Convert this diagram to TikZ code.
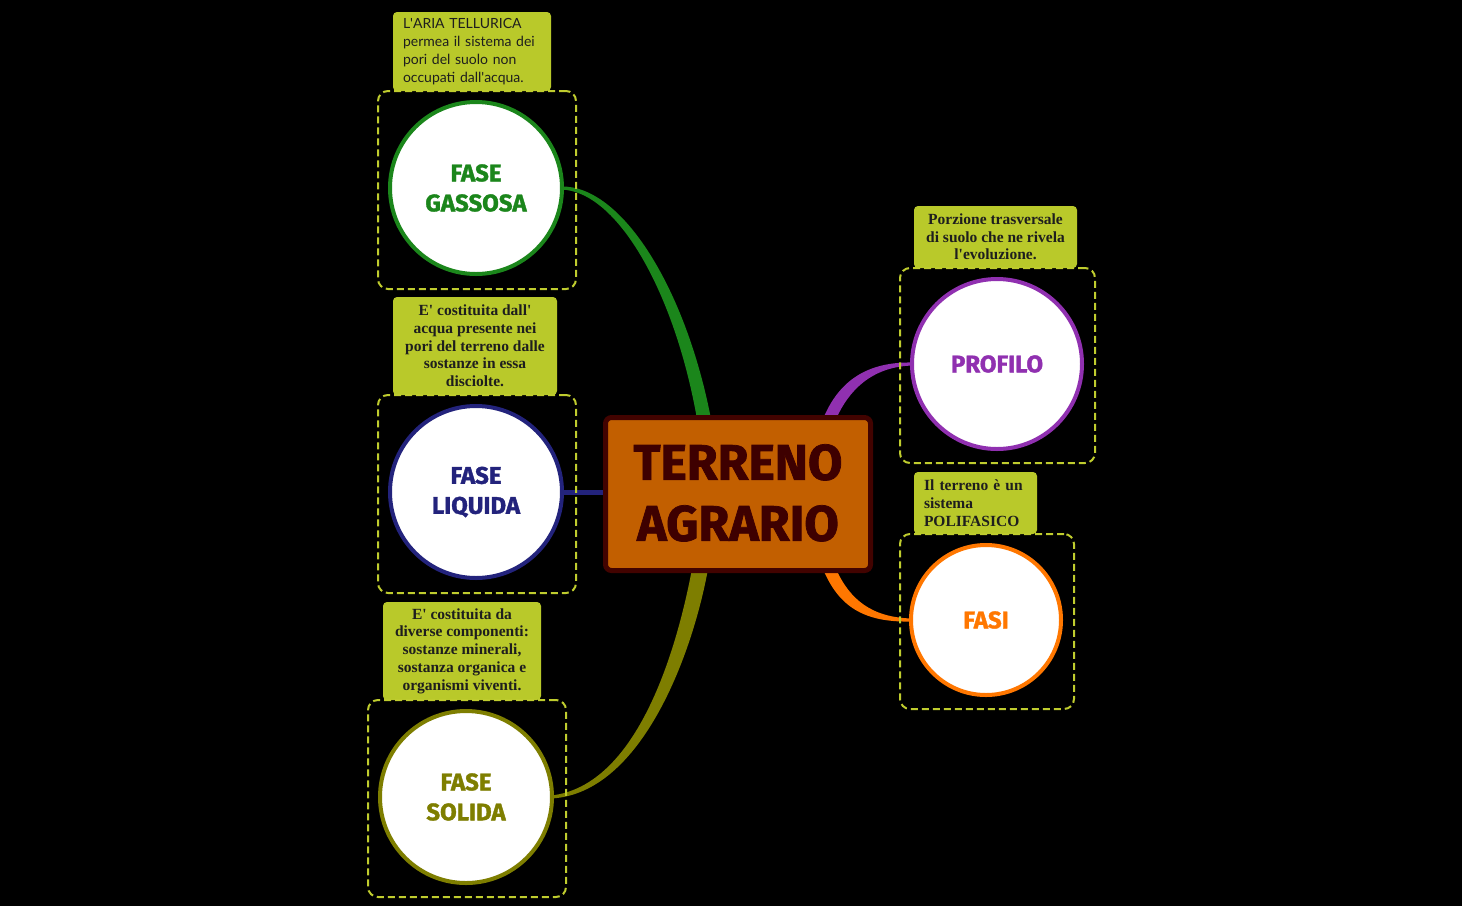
\documentclass[tikz,border=0pt]{standalone}
\usepackage{fontspec}
\setmainfont{Liberation Serif}
\newfontfamily\notesans{Lato}
\newfontfamily\heavy{Fira Sans}[BoldFeatures={FakeBold=1.5}]
\usetikzlibrary{calc}
\pgfdeclarelayer{bg}
\pgfsetlayers{bg,main}
\definecolor{bgnote}{HTML}{B9C92A}
\definecolor{dashc}{HTML}{BFCC2E}
\definecolor{cfill}{HTML}{C25F00}
\definecolor{cbord}{HTML}{420300}
\definecolor{ctext}{HTML}{3E0000}
\definecolor{cgas}{HTML}{1B861B}
\definecolor{cliq}{HTML}{23237C}
\definecolor{csol}{HTML}{7E7E00}
\definecolor{cpro}{HTML}{9030B0}
\definecolor{cfas}{HTML}{FF7700}
\definecolor{notetext}{HTML}{1E1E1E}
\newcommand{\apo}{\textquotesingle}
\begin{document}
\begin{tikzpicture}[x=1pt,y=-1pt,
  dashbox/.style={draw=dashc, line width=2, dash pattern=on 7pt off 4pt, rounded corners=10, inner sep=0},
  notebox/.style={fill=bgnote, rounded corners=4, inner sep=0, text=notetext},
  serifnote/.style={notebox, align=center, font=\bfseries\fontsize{15.5}{17.7}\selectfont},
  circ/.style={circle, fill=white, line width=4, minimum size=172, inner sep=0, align=center, font=\heavy\bfseries\fontsize{24}{30}\selectfont},
]
\begin{pgfonlayer}{bg}
\fill[black] (0,0) rectangle (1462,906);
\end{pgfonlayer}
\useasboundingbox (0,0) rectangle (1462,906);

% notes
\node[notebox, minimum width=158, minimum height=79, text width=138, align=left, font=\notesans\fontsize{14}{18}\selectfont] (ngas) at (472,51.5) {L\apo ARIA TELLURICA\\permea il sistema dei\\pori del suolo non\\occupati dall\apo acqua.};
\node[serifnote, minimum width=164, minimum height=98] (nliq) at (475,346) {E\apo{} costituita dall\apo\\acqua presente nei\\pori del terreno dalle\\sostanze in essa\\disciolte.};
\node[serifnote, minimum width=158, minimum height=98] (nsol) at (462,651) {E\apo{} costituita da\\diverse componenti:\\sostanze minerali,\\sostanza organica e\\organismi viventi.};
\node[serifnote, minimum width=163, minimum height=62] (npro) at (995.5,237) {Porzione trasversale\\di suolo che ne rivela\\l\apo evoluzione.};
\node[notebox, minimum width=123, minimum height=62, text width=103, align=left, font=\bfseries\fontsize{15.5}{17.7}\selectfont] (nfas) at (975.5,503) {Il terreno è un\\sistema\\POLIFASICO};

% dashed frames
\node[dashbox, minimum width=198, minimum height=198] (bgas) at (477,190) {};
\node[dashbox, minimum width=198, minimum height=198] (bliq) at (477,494) {};
\node[dashbox, minimum width=198, minimum height=197] (bsol) at (467,798.5) {};
\node[dashbox, minimum width=195, minimum height=195] (bpro) at (997.5,365.5) {};
\node[dashbox, minimum width=174, minimum height=175] (bfas) at (987,621.5) {};

% central topic
\node[draw=cbord, line width=5, fill=cfill, rounded corners=6, minimum width=265, minimum height=153, inner sep=0, align=center, text=ctext, font=\heavy\bfseries\fontsize{50}{61}\selectfont] (tc) at (738,494) {\raisebox{3pt}{TERRENO}\\\raisebox{3pt}{AGRARIO}};

% circles
\node[circ, draw=cgas, text=cgas] (gas) at (476,188) {FASE\\GASSOSA};
\node[circ, draw=cliq, text=cliq] (liq) at (476,492) {FASE\\LIQUIDA};
\node[circ, draw=csol, text=csol] (sol) at (466,797) {FASE\\SOLIDA};
\node[circ, draw=cpro, text=cpro, minimum size=170] (pro) at (997,364) {PROFILO};
\node[circ, draw=cfas, text=cfas, minimum size=150] (fas) at (986,620) {FASI};

% connectors
\begin{pgfonlayer}{bg}
\fill[cgas] ($(gas.east)+(-3,-1.5)$) .. controls +(61,-1.5) and +(-25,-130) .. ($(tc.north)+(-27,4)$)
  -- ($(tc.north)+(-41,4)$) .. controls +(-22,-125) and +(57,1.5) .. ($(gas.east)+(-3,1.5)$) -- cycle;
\draw[cliq, line width=5] (liq.east) -- (liq.east -| tc.west);
\fill[csol] ($(tc.south)+(-30,-4)$) .. controls +(-15,83) and +(91,-4.5) .. ($(sol.east)+(-3,1.5)$)
  -- ($(sol.east)+(-3,-1.5)$) .. controls +(87,-9.5) and +(-15,79) .. ($(tc.south)+(-46,-4)$) -- cycle;
\fill[cpro] ($(tc.north east)+(-50,4)$) .. controls +(16,-39) and +(-45,-1) .. ($(pro.west)+(3,-1.5)$)
  -- ($(pro.west)+(3,1.5)$) .. controls +(-41,1) and +(13,-29) .. ($(tc.north east)+(-37,4)$) -- cycle;
\fill[cfas] ($(tc.south east)+(-50,-4)$) .. controls +(17,41) and +(-44,1) .. ($(fas.west)+(3,1.5)$)
  -- ($(fas.west)+(3,-1.5)$) .. controls +(-40,-1) and +(14,31) .. ($(tc.south east)+(-37,-4)$) -- cycle;
\end{pgfonlayer}
\end{tikzpicture}
\end{document}
